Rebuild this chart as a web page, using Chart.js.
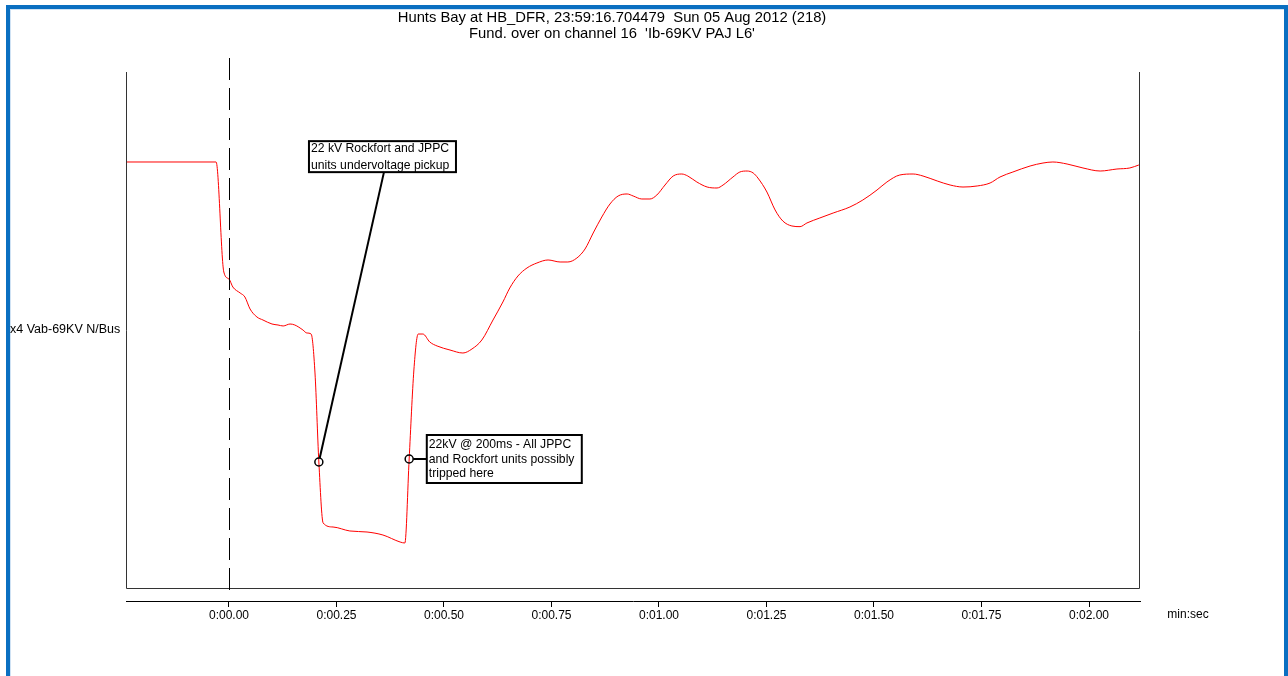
<!DOCTYPE html>
<html>
<head>
<meta charset="utf-8">
<script src="https://cdn.jsdelivr.net/npm/chart.js@4.4.0/dist/chart.umd.min.js"></script>
<style>
  html, body { margin: 0; padding: 0; background: #ffffff; }
  canvas { display: block; }
</style>
</head>
<body>
<canvas id="c" width="1288" height="676"></canvas>
<script>
// ---- Data (time in seconds relative to trigger, value in arbitrary % of scale) ----
const timeSec = [
  -0.240, -0.030, -0.012, 0.000, 0.009, 0.026, 0.037, 0.049, 0.065, 0.079,
  0.100, 0.114, 0.126, 0.142, 0.153, 0.172, 0.181, 0.191, 0.200, 0.209,
  0.219, 0.242, 0.281, 0.321, 0.358, 0.398, 0.409, 0.419, 0.430, 0.440,
  0.451, 0.467, 0.484, 0.514, 0.544, 0.565, 0.588, 0.614, 0.637, 0.653,
  0.672, 0.693, 0.716, 0.742, 0.770, 0.788, 0.809, 0.828, 0.847, 0.867,
  0.886, 0.905, 0.926, 0.940, 0.960, 0.979, 0.995, 1.014, 1.033, 1.053,
  1.067, 1.088, 1.112, 1.135, 1.149, 1.172, 1.188, 1.205, 1.219, 1.230,
  1.251, 1.270, 1.288, 1.309, 1.328, 1.344, 1.374, 1.405, 1.444, 1.474,
  1.507, 1.530, 1.560, 1.591, 1.614, 1.647, 1.677, 1.707, 1.740, 1.770,
  1.793, 1.823, 1.863, 1.893, 1.916, 1.949, 1.986, 2.026, 2.065, 2.095,
  2.116
];
const voltage = [
  82.56, 82.56, 61.24, 59.88, 58.33, 57.17, 56.40, 54.07, 52.52, 51.94,
  51.16, 50.97, 50.78, 51.16, 50.97, 50.00, 49.42, 49.22, 41.67, 24.42,
  12.60, 11.82, 11.05, 10.85, 10.27, 8.91, 8.72, 25.00, 42.25, 49.22,
  49.22, 47.67, 46.90, 46.12, 45.54, 46.32, 48.06, 51.94, 55.43, 58.14,
  60.47, 62.02, 62.98, 63.57, 63.18, 63.18, 63.95, 65.70, 68.80, 71.90,
  74.42, 75.97, 76.36, 75.97, 75.39, 75.39, 76.16, 78.10, 79.84, 80.23,
  79.84, 78.68, 77.71, 77.52, 78.10, 79.65, 80.62, 80.81, 80.43, 79.46,
  76.74, 73.26, 71.12, 70.16, 70.03, 70.74, 71.71, 72.67, 73.84, 75.19,
  77.13, 78.68, 80.04, 80.23, 79.84, 78.88, 78.10, 77.71, 77.91, 78.49,
  79.65, 80.62, 81.78, 82.36, 82.56, 82.17, 81.40, 80.81, 81.20, 81.40,
  81.98
];
const tickValues = [0, 0.25, 0.5, 0.75, 1.0, 1.25, 1.5, 1.75, 2.0];
const tickLabels = ['0:00.00', '0:00.25', '0:00.50', '0:00.75', '0:01.00', '0:01.25', '0:01.50', '0:01.75', '0:02.00'];
const titleLines = ['Hunts Bay at HB_DFR, 23:59:16.704479  Sun 05 Aug 2012 (218)', "Fund. over on channel 16  'Ib-69KV PAJ L6'"];
const yAxisLabel = 'x4 Vab-69KV N/Bus';
const xUnitLabel = 'min:sec';
const markerTime = 0;

// annotations: point on the curve (time, value) and box top-left (time, value)
const annot1Lines = ['22 kV Rockfort and JPPC', 'units undervoltage pickup'];
const annot1Point = [0.209, 24.42];
const annot1Box = [0.186, 86.6];
const annot2Lines = ['22kV @ 200ms - All JPPC', 'and Rockfort units possibly', 'tripped here'];
const annot2Point = [0.419, 25.00];
const annot2Box = [0.460, 29.65];

const FONT = '"Liberation Sans", Arial, Helvetica, sans-serif';

const points = timeSec.map((t, i) => ({ x: t, y: voltage[i] }));

const decor = {
  id: 'decor',
  beforeDraw(chart) {
    const ctx = chart.ctx;
    ctx.save();
    ctx.fillStyle = '#ffffff';
    ctx.fillRect(0, 0, chart.width, chart.height);
    ctx.restore();
  },
  afterDraw(chart) {
    const ctx = chart.ctx;
    const xs = chart.scales.x, ys = chart.scales.y;
    const ca = chart.chartArea;
    ctx.save();
    // blue frame
    ctx.fillStyle = '#0a6fc1';
    ctx.fillRect(6, 5, 1282, 4);
    ctx.fillRect(6, 5, 4, 700);
    ctx.fillRect(1284, 5, 4, 700);
    ctx.fillStyle = '#cfe2f4';
    ctx.fillRect(10, 9, 1274, 1);
    ctx.fillRect(10, 9, 1, 700);

    // title
    ctx.fillStyle = '#000';
    ctx.font = '14.8px ' + FONT;
    ctx.textAlign = 'center';
    ctx.textBaseline = 'middle';
    ctx.fillText(titleLines[0], 612, 18);
    ctx.fillText(titleLines[1], 612, 34);

    // plot box (left, right, bottom)
    const y0 = Math.round(ys.getPixelForValue(0)) + 0.5;
    const yTop = ca.top;
    ctx.strokeStyle = '#333';
    ctx.lineWidth = 1;
    ctx.beginPath();
    ctx.moveTo(ca.left + 0.5, yTop);
    ctx.lineTo(ca.left + 0.5, y0);
    ctx.lineTo(ca.right - 0.5, y0);
    ctx.lineTo(ca.right - 0.5, yTop);
    ctx.stroke();

    // dashed trigger line
    const xm = Math.round(xs.getPixelForValue(markerTime)) + 0.5;
    ctx.strokeStyle = '#000';
    ctx.setLineDash([22, 8]);
    ctx.beginPath();
    ctx.moveTo(xm, 58);
    ctx.lineTo(xm, 597);
    ctx.stroke();
    ctx.setLineDash([]);

    // labels
    ctx.font = '12.5px ' + FONT;
    ctx.textAlign = 'left';
    ctx.fillText(yAxisLabel, 10, 330);
    ctx.font = '12px ' + FONT;
    ctx.textAlign = 'center';
    ctx.fillText(xUnitLabel, 1188, 615);

    // annotations
    function drawBox(lines, bx, by, w, h, lineH, firstY) {
      ctx.fillStyle = '#fff';
      ctx.fillRect(bx, by, w, h);
      ctx.strokeStyle = '#000';
      ctx.lineWidth = 2;
      ctx.strokeRect(bx, by, w, h);
      ctx.fillStyle = '#000';
      ctx.font = '12.2px ' + FONT;
      ctx.textAlign = 'left';
      ctx.textBaseline = 'middle';
      lines.forEach((s, i) => ctx.fillText(s, bx + 2, by + firstY + i * lineH));
    }
    function circle(px, py) {
      ctx.beginPath();
      ctx.arc(px, py, 4, 0, Math.PI * 2);
      ctx.strokeStyle = '#000';
      ctx.lineWidth = 1.5;
      ctx.stroke();
    }
    // annotation 1
    const p1x = xs.getPixelForValue(annot1Point[0]), p1y = ys.getPixelForValue(annot1Point[1]);
    const b1x = xs.getPixelForValue(annot1Box[0]), b1y = ys.getPixelForValue(annot1Box[1]);
    const w1 = 147, h1 = 31;
    ctx.strokeStyle = '#000';
    ctx.lineWidth = 2;
    ctx.beginPath();
    const ang = Math.atan2(b1y + h1 - p1y, b1x + 75 - p1x);
    ctx.moveTo(p1x + 4 * Math.cos(ang), p1y + 4 * Math.sin(ang));
    ctx.lineTo(b1x + 75, b1y + h1);
    ctx.stroke();
    drawBox(annot1Lines, b1x, b1y, w1, h1, 17, 7.5);
    circle(p1x, p1y);

    // annotation 2
    const p2x = xs.getPixelForValue(annot2Point[0]), p2y = ys.getPixelForValue(annot2Point[1]);
    const b2x = xs.getPixelForValue(annot2Box[0]), b2y = ys.getPixelForValue(annot2Box[1]);
    const w2 = 155, h2 = 48;
    ctx.strokeStyle = '#000';
    ctx.lineWidth = 2;
    ctx.beginPath();
    ctx.moveTo(p2x + 4, p2y);
    ctx.lineTo(b2x, p2y);
    ctx.stroke();
    drawBox(annot2Lines, b2x, b2y, w2, h2, 14.7, 9.5);
    circle(p2x, p2y);

    ctx.restore();
  }
};

new Chart(document.getElementById('c'), {
  type: 'line',
  data: {
    datasets: [{
      data: points,
      borderColor: '#ff0000',
      borderWidth: 1,
      pointRadius: 0,
      fill: false,
      cubicInterpolationMode: 'monotone'
    }]
  },
  options: {
    responsive: false,
    animation: false,
    events: [],
    layout: { padding: { left: 126, right: 148, top: 72, bottom: 0 } },
    plugins: { legend: { display: false }, title: { display: false }, tooltip: { enabled: false } },
    scales: {
      x: {
        type: 'linear',
        min: -0.2395,
        max: 2.1186,
        afterBuildTicks: (axis) => { axis.ticks = tickValues.map(v => ({ value: v })); },
        afterFit: (axis) => { axis.height = 75; },
        grid: { drawOnChartArea: false, drawTicks: true, tickLength: 6, color: '#000', lineWidth: 1 },
        border: { display: true, color: '#000', width: 1 },
        ticks: {
          autoSkip: false, maxRotation: 0, minRotation: 0, padding: 1,
          color: '#000',
          font: { size: 12, family: FONT },
          callback: (v, i) => tickLabels[i]
        }
      },
      y: { display: false, min: -2.52, max: 100 }
    }
  },
  plugins: [decor]
});
</script>
</body>
</html>
